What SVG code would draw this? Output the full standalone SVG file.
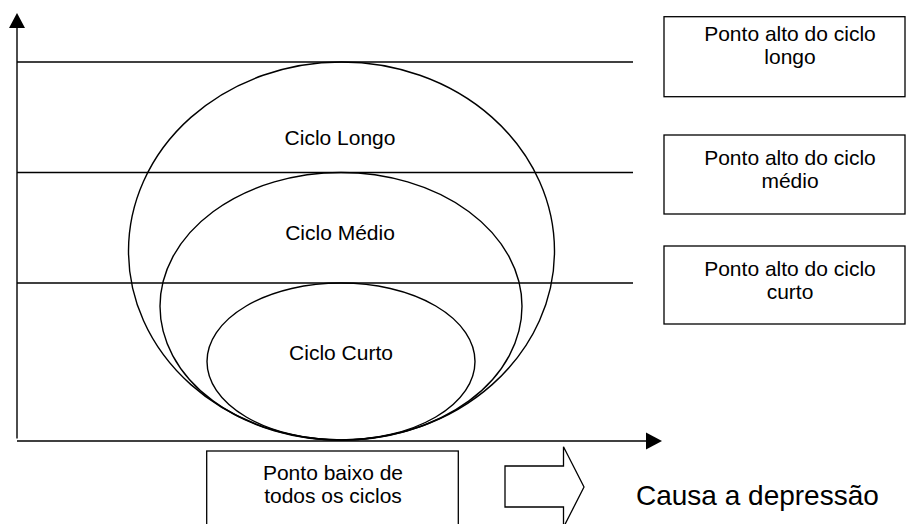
<svg xmlns="http://www.w3.org/2000/svg" width="906" height="524" viewBox="0 0 906 524">
<style>
.ln{stroke:#000;stroke-width:1.4;fill:none}
.bx{stroke:#000;stroke-width:1.3;fill:#fff}
.t{font-family:"Liberation Sans",Arial,sans-serif;font-size:21px;fill:#000;text-anchor:middle}
.big{font-family:"Liberation Sans",Arial,sans-serif;font-size:28px;fill:#000}
</style>
<rect width="906" height="524" fill="#fff"/>
<g id="connectors">
<line class="ln" x1="17" y1="27" x2="17" y2="438.5"/>
<polygon points="17,13 9,28 25,28" fill="#000"/>
<line class="ln" x1="17" y1="441" x2="647" y2="441"/>
<polygon points="662,441 646,432.5 646,449.5" fill="#000"/>
<line class="ln" x1="17" y1="62" x2="633" y2="62"/>
<line class="ln" x1="17" y1="172.5" x2="633" y2="172.5"/>
<line class="ln" x1="17" y1="283" x2="633" y2="283"/>
</g>
<g id="ciclo-longo">
<ellipse class="ln" cx="341.5" cy="251" rx="213" ry="189"/>
<text class="t" x="340" y="145">Ciclo Longo</text>
</g>
<g id="ciclo-medio">
<ellipse class="ln" cx="341" cy="306.3" rx="181" ry="133.8"/>
<text class="t" x="340" y="240">Ciclo Médio</text>
</g>
<g id="ciclo-curto">
<ellipse class="ln" cx="341" cy="361.5" rx="134" ry="78.5"/>
<text class="t" x="341" y="360">Ciclo Curto</text>
</g>
<g id="box-longo">
<rect class="bx" x="664" y="16.7" width="241" height="80"/>
<text class="t" x="790" y="40.5">Ponto alto do ciclo</text>
<text class="t" x="790" y="63.5">longo</text>
</g>
<g id="box-medio">
<rect class="bx" x="664" y="135" width="241" height="79"/>
<text class="t" x="790" y="165">Ponto alto do ciclo</text>
<text class="t" x="790" y="188">médio</text>
</g>
<g id="box-curto">
<rect class="bx" x="664" y="246" width="241" height="78"/>
<text class="t" x="790" y="275.5">Ponto alto do ciclo</text>
<text class="t" x="790" y="298.5">curto</text>
</g>
<g id="box-baixo">
<rect class="bx" x="206.7" y="451" width="251.6" height="80"/>
<text class="t" x="333" y="480">Ponto baixo de</text>
<text class="t" x="333" y="503">todos os ciclos</text>
</g>
<g id="seta">
<polygon class="bx" points="505,466 563.5,466 563.5,446.7 584,487 563.5,527.3 563.5,507 505,507"/>
</g>
<g id="depressao">
<text class="big" x="636" y="505">Causa a depressão</text>
</g>
</svg>
